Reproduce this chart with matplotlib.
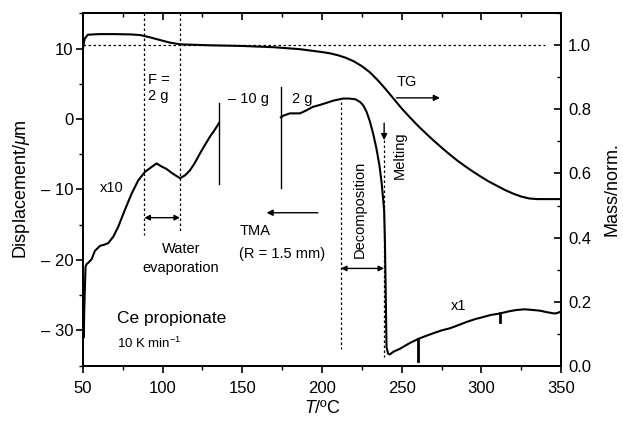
import matplotlib
matplotlib.use("Agg")
import matplotlib.pyplot as plt
from matplotlib.ticker import MultipleLocator, FixedLocator

plt.rcParams['font.family'] = ['Liberation Sans', 'DejaVu Sans']
plt.rcParams['mathtext.fontset'] = 'custom'
plt.rcParams['mathtext.rm'] = 'Liberation Sans'
plt.rcParams['mathtext.it'] = 'Liberation Sans:italic'

# ---- data ----
tg_T = [50, 51, 53, 60, 70, 80, 86, 92, 98, 104, 111, 130, 150, 170, 186, 200,
        205, 210, 215, 220, 225, 230, 235, 240, 245, 250, 255, 260, 265, 270,
        275, 280, 285, 290, 295, 300, 305, 310, 315, 320, 325, 330, 335, 350]
tg_mass = [0.99, 1.02, 1.033, 1.035, 1.035, 1.034, 1.032, 1.025, 1.017, 1.009,
           1.003, 1.0, 0.998, 0.994, 0.988, 0.979, 0.975, 0.969, 0.961, 0.950,
           0.935, 0.916, 0.891, 0.863, 0.833, 0.803, 0.776, 0.75, 0.726, 0.703,
           0.681, 0.66, 0.64, 0.622, 0.605, 0.589, 0.574, 0.561, 0.548, 0.537,
           0.528, 0.522, 0.52, 0.52]

tma1_T = [50.2, 50.5, 50.8, 51.2, 51.6, 52.2, 53.3, 55.4, 57.5, 60.7, 63.8, 65.9,
          69.0, 72.1, 76.3, 80.5, 84.7, 88.9, 93.1, 96.2, 99.0, 102.5, 106.0,
          110.9, 114.0, 117.1, 120.0, 123.4, 126.5, 129.7, 132.5, 135.3]
tma1_D = [-29.5, -31.0, -27.0, -24.0, -21.0, -20.6, -20.4, -19.9, -18.7, -18.0,
          -17.8, -17.6, -16.7, -15.3, -12.9, -10.6, -8.7, -7.5, -6.8, -6.3, -6.7,
          -7.1, -7.7, -8.4, -8.0, -7.3, -6.3, -4.9, -3.7, -2.5, -1.6, -0.6]

tma2_T = [174.2, 176, 179.9, 183, 186.1, 190, 194, 198.7, 203, 207, 211, 213.3,
          217, 221, 224, 226, 228, 230, 232, 234, 236, 237.4, 238.4, 239,
          239.5, 240, 240.5, 241.5, 242.6, 245, 248.9, 255, 260.4, 265, 269.8,
          275, 280.2, 285, 290.7, 296, 301.1, 306, 311.6, 317, 322, 327, 332.5,
          337, 340.9, 346, 348, 350]
tma2_D = [0.24, 0.5, 0.8, 0.8, 0.8, 1.2, 1.7, 2.0, 2.3, 2.6, 2.8, 2.9, 2.9, 2.8,
          2.4, 1.9, 1.0, -0.3, -2.0, -4.0, -6.5, -9.0, -11.4, -13.0, -17.4, -25.0,
          -32.4, -33.3, -33.4, -33.0, -32.6, -31.8, -31.2, -30.8, -30.4, -30.0,
          -29.7, -29.3, -28.8, -28.4, -28.1, -27.8, -27.6, -27.3, -27.1, -27.0,
          -27.1, -27.2, -27.4, -27.6, -27.5, -27.3]

# load-change separators (T, D_top, D_bottom)
sep_T = [135.3, 174.2]
sep_top = [2.3, 4.5]
sep_bot = [-9.2, -9.8]
# small marks on x1 curve
mark_T = [260.4, 311.6]
mark_top = [-31.2, -27.5]
mark_bot = [-34.3, -28.8]

left_ticks = [-30, -20, -10, 0, 10]
left_labels = ['\u2013 30', '\u2013 20', '\u2013 10', '0', '10']
x_ticks = [50, 100, 150, 200, 250, 300, 350]
right_ticks = [0.0, 0.2, 0.4, 0.6, 0.8, 1.0]

fig = plt.figure(figsize=(6.23, 4.23), dpi=100)
ax = fig.add_axes([0.1332, 0.1355, 0.7673, 0.8331])
ax2 = ax.twinx()

lw = 1.5
ax2.plot(tg_T, tg_mass, color='black', lw=lw)
ax2.plot([50, 340], [1.0, 1.0], color='black', lw=0.9, ls=(0, (2, 2)))

ax.plot(tma1_T, tma1_D, color='black', lw=lw)
ax.plot(tma2_T, tma2_D, color='black', lw=lw)
for t, a, b in zip(sep_T, sep_top, sep_bot):
    ax.plot([t, t], [a, b], color='black', lw=1.0)
for t, a, b in zip(mark_T, mark_top, mark_bot):
    ax.plot([t, t], [a, b], color='black', lw=2.0)

dot = dict(color='black', lw=0.9, ls=(0, (2, 2)))
ax.plot([88.5, 88.5], [15, -16.5], **dot)
ax.plot([110.9, 110.9], [15, -16.1], **dot)
ax.plot([211.9, 211.9], [2.4, -32.6], **dot)
ax.plot([239.0, 239.0], [-3.0, -33.7], **dot)

arr = dict(arrowstyle='<|-|>', color='black', lw=1.0, mutation_scale=8, shrinkA=0, shrinkB=0)
ax.annotate('', xy=(88.5, -14.0), xytext=(110.9, -14.0), arrowprops=arr)
ax.annotate('', xy=(211.9, -21.2), xytext=(239.0, -21.2), arrowprops=arr)
one = dict(arrowstyle='-|>', color='black', lw=1.0, mutation_scale=9, shrinkA=0, shrinkB=0)
ax.annotate('', xy=(165.2, -13.3), xytext=(197.4, -13.3), arrowprops=one)
ax.annotate('', xy=(274.0, 3.0), xytext=(246.7, 3.0), arrowprops=one)
ax.annotate('', xy=(239.0, -3.0), xytext=(239.0, -0.6), arrowprops=one)

fs = 10.5
ax.text(91.0, 5.6, 'F =', fontsize=fs, va='center', ha='left')
ax.text(91.0, 3.3, '2 g', fontsize=fs, va='center', ha='left')
ax.text(141.0, 2.9, '\u2013 10 g', fontsize=fs, va='center', ha='left')
ax.text(181.0, 2.9, '2 g', fontsize=fs, va='center', ha='left')
ax.text(60.5, -9.8, 'x10', fontsize=fs, va='center', ha='left')
ax.text(111.4, -18.5, 'Water', fontsize=fs, va='center', ha='center')
ax.text(111.4, -21.1, 'evaporation', fontsize=fs, va='center', ha='center')
ax.text(148.0, -15.9, 'TMA', fontsize=fs, va='center', ha='left')
ax.text(148.0, -19.2, '(R = 1.5 mm)', fontsize=fs, va='center', ha='left')
ax.text(71.5, -28.3, 'Ce propionate', fontsize=12.5, va='center', ha='left')
ax.text(71.5, -31.8, '10 K min$^{-1}$', fontsize=9.5, va='center', ha='left')
ax.text(281.0, -26.6, 'x1', fontsize=fs, va='center', ha='left')
ax.text(246.7, 5.3, 'TG', fontsize=fs, va='center', ha='left')
ax.text(248.5, -5.1, 'Melting', fontsize=fs, va='center', ha='center', rotation=90)
ax.text(223.8, -12.8, 'Decomposition', fontsize=fs, va='center', ha='center', rotation=90)

ax.set_xlim(50, 350)
ax.set_ylim(-35, 15)
ax2.set_ylim(0, 1.1)

ax.xaxis.set_major_locator(FixedLocator(x_ticks))
ax.xaxis.set_minor_locator(MultipleLocator(25))
ax.yaxis.set_major_locator(FixedLocator(left_ticks))
ax.set_yticklabels(left_labels)
ax.yaxis.set_minor_locator(MultipleLocator(5))
ax2.yaxis.set_major_locator(FixedLocator(right_ticks))
ax2.set_yticklabels(['0.0', '0.2', '0.4', '0.6', '0.8', '1.0'])
ax2.yaxis.set_minor_locator(MultipleLocator(0.1))

tfs = 12
ax.tick_params(axis='x', which='major', direction='out', length=5, width=1.2, labelsize=tfs, pad=6)
ax.tick_params(axis='x', which='minor', direction='out', length=3, width=1.0)
ax.tick_params(axis='y', which='major', direction='out', length=5, width=1.2, labelsize=tfs, pad=2)
ax.tick_params(axis='y', which='minor', direction='out', length=3, width=1.0)
ax2.tick_params(axis='y', which='major', direction='in', length=5, width=1.2, labelsize=tfs, pad=5)
ax2.tick_params(axis='y', which='minor', direction='in', length=3, width=1.0)

top = ax.secondary_xaxis('top')
top.xaxis.set_major_locator(FixedLocator(x_ticks))
top.xaxis.set_minor_locator(MultipleLocator(25))
top.tick_params(which='major', direction='in', length=5, width=1.2, labeltop=False)
top.tick_params(which='minor', direction='in', length=3, width=1.0)

for a in (ax, ax2):
    for s in a.spines.values():
        s.set_linewidth(1.3)
top.spines['top'].set_linewidth(1.3)

ax.set_xlabel('$T$/\u00baC', fontsize=13, labelpad=3)
ax.set_ylabel('Displacement/$\\mu$m', fontsize=13, labelpad=6)
ax2.set_ylabel('Mass/norm.', fontsize=13, labelpad=9)

fig.savefig('out.png', dpi=100)
